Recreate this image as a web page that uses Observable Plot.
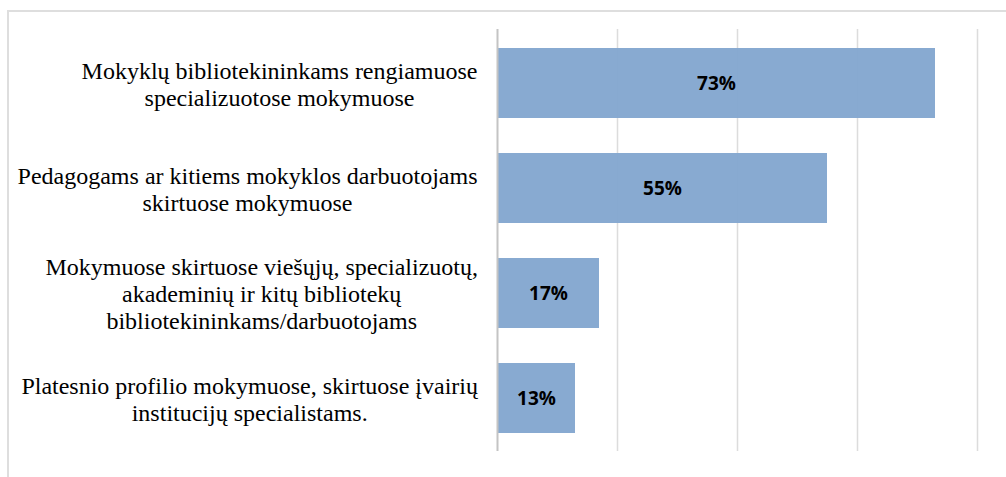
<!DOCTYPE html>
<html>
<head>
<meta charset="utf-8">
<script src="https://cdn.jsdelivr.net/npm/d3@7"></script>
<script src="https://cdn.jsdelivr.net/npm/@observablehq/plot@0.6"></script>
<style>
  html, body { margin: 0; padding: 0; background: #fff; }
  #wrap { position: relative; width: 1006px; height: 477px; overflow: hidden; }
  #border { position: absolute; left: 7px; top: 10px; width: 1010px; height: 480px;
            border-top: 2px solid #dedede; border-left: 2px solid #dedede; box-sizing: border-box; }
  #chart { position: absolute; left: 0; top: 0; }
</style>
</head>
<body>
<div id="wrap"><div id="border"></div><div id="chart"></div></div>
<script>
const categories = [
  "Mokyklų bibliotekininkams rengiamuose\nspecializuotose mokymuose",
  "Pedagogams ar kitiems mokyklos darbuotojams\nskirtuose mokymuose",
  "Mokymuose skirtuose viešųjų, specializuotų,\nakademinių ir kitų bibliotekų\nbibliotekininkams/darbuotojams",
  "Platesnio profilio mokymuose, skirtuose įvairių\ninstitucijų specialistams."
];
const values = [73, 55, 17, 13];
const gridTicks = [0, 20, 40, 60, 80];

const data = categories.map((c, i) => ({cat: c, value: values[i]}));

const chart = Plot.plot({
  width: 1006,
  height: 477,
  marginLeft: 497,
  marginRight: 29,
  marginTop: 29,
  marginBottom: 26,
  x: {domain: [0, 80], axis: null},
  y: {domain: categories, axis: null, paddingInner: 0.335, paddingOuter: 0.171},
  style: {background: "transparent", overflow: "visible"},
  marks: [
    Plot.ruleX(gridTicks.filter(d => d > 0), {stroke: "#dcdcdc", strokeWidth: 1.5}),
    Plot.barX(data, {x: "value", y: "cat", fill: "#84a7cf", fillOpacity: 0.97}),
    Plot.ruleX([0], {stroke: "#c4c4c4", strokeWidth: 2}),
    Plot.text(data, {
      x: d => d.value / 2, y: "cat", text: d => d.value + "%",
      fontWeight: "bold", fontSize: 19, fontFamily: "Open Sans", fill: "#000"
    }),
    Plot.text(data, {
      x: 0, y: "cat", text: "cat", textAnchor: "end", dx: -20,
      fontSize: 24, fontFamily: "Liberation Serif", lineHeight: 1.125, fill: "#000",
      className: "cat-labels"
    })
  ]
});

document.getElementById("chart").append(chart);

// center the lines of each category label within its right-aligned block
d3.select(chart).selectAll(".cat-labels text").each(function() {
  const bb = this.getBBox();
  const center = bb.x + bb.width / 2;
  this.setAttribute("text-anchor", "middle");
  const tspans = this.querySelectorAll("tspan");
  if (tspans.length) tspans.forEach(t => t.setAttribute("x", center));
  else this.setAttribute("x", center);
});
</script>
</body>
</html>
